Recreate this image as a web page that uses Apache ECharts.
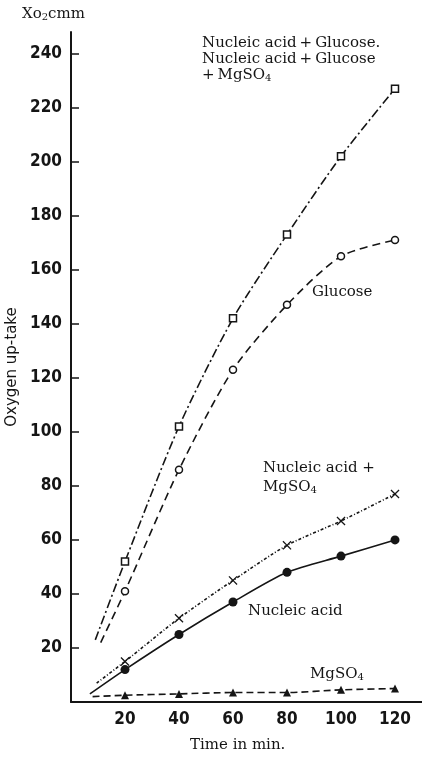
<!DOCTYPE html>
<html>
<head>
<meta charset="utf-8">
<script src="https://cdn.jsdelivr.net/npm/echarts@6/dist/echarts.min.js"></script>
<style>
  html, body { margin: 0; padding: 0; background: #fff; }
  #chart { width: 422px; height: 760px; }
</style>
</head>
<body>
<div id="chart"></div>
<script>
// time points (min)
var timeMin = [20, 40, 60, 80, 100, 120];
var xTicks = [20, 40, 60, 80, 100, 120];
var yTicks = [20, 40, 60, 80, 100, 120, 140, 160, 180, 200, 220, 240];

// oxygen up-take values
var nucGlucose = [52, 102, 142, 173, 202, 227];   // Nucleic acid + Glucose (+MgSO4)
var glucose = [41, 86, 123, 147, 165, 171];
var nucMgso4 = [15, 31, 45, 58, 67, 77];
var nucleic = [12, 25, 37, 48, 54, 60];
var mgso4 = [2.5, 3, 3.5, 3.5, 4.5, 5];

// where each hand-drawn curve begins (no marker)
var startNucGlucose = [9, 23];
var startGlucose = [11, 22];
var startNucMgso4 = [9.5, 7];
var startNucleic = [7, 3];
var startMgso4 = [8, 2];

var INK = "#151515";
var crossPath = "path://M0,1L1,0L5,4L9,0L10,1L6,5L10,9L9,10L5,6L1,10L0,9L4,5Z";

function buildData(start, values) {
  var out = [{ value: start, symbol: "none" }];
  values.forEach(function (v, i) {
    out.push([timeMin[i], v]);
  });
  return out;
}

function lineSeries(name, start, values, dash, symbol, size, filled) {
  return {
    name: name,
    type: "line",
    smooth: 0.25,
    data: buildData(start, values),
    symbol: symbol,
    symbolSize: size,
    showAllSymbol: true,
    lineStyle: { color: INK, width: 1.6, type: dash },
    itemStyle: {
      color: filled ? INK : "#fff",
      borderColor: INK,
      borderWidth: filled ? 0 : 1.5,
    },
    emphasis: { disabled: true },
    z: 3,
  };
}

var chart = echarts.init(document.getElementById("chart"));

var serif = "'DejaVu Serif', 'Liberation Serif', serif";
var narrow = "'DejaVu Sans Condensed', 'Liberation Sans Narrow', 'Liberation Sans', sans-serif";
var sub = { fontFamily: serif, fontSize: 10, fill: INK, padding: [6, 0, 0, 0] };

var option = {
  backgroundColor: "#fff",
  animation: false,
  grid: { left: 71, right: 0, top: 32, bottom: 58, outerBoundsMode: "none" },
  xAxis: {
    type: "value",
    min: 0,
    max: 130,
    axisLine: { show: true, lineStyle: { color: INK, width: 2 } },
    axisTick: { show: false },
    splitLine: { show: false },
    axisLabel: {
      customValues: xTicks,
      color: INK,
      fontFamily: narrow,
      fontWeight: "bold",
      fontSize: 17,
      margin: 9,
    },
  },
  yAxis: {
    type: "value",
    min: 0,
    max: 248,
    name: "Oxygen up-take",
    nameLocation: "middle",
    nameRotate: 90,
    nameGap: 45,
    nameTextStyle: { color: INK, fontFamily: "'DejaVu Sans', sans-serif", fontSize: 15 },
    axisLine: { show: true, lineStyle: { color: INK, width: 2 } },
    axisTick: {
      show: true,
      inside: true,
      length: 8,
      customValues: yTicks,
      lineStyle: { color: INK, width: 1.5 },
    },
    splitLine: { show: false },
    axisLabel: {
      customValues: yTicks,
      color: INK,
      fontFamily: narrow,
      fontWeight: "bold",
      fontSize: 17,
      margin: 9,
    },
  },
  graphic: [
    {
      type: "text",
      left: 22,
      top: 7,
      style: {
        text: "{a|Xo}{s|2}{a|cmm}",
        rich: {
          a: { fontFamily: serif, fontSize: 15, fill: INK },
          s: sub,
        },
      },
    },
    {
      type: "text",
      left: 202,
      top: 35,
      style: {
        text: "Nucleic acid\u2009+\u2009Glucose.\nNucleic acid\u2009+\u2009Glucose\n+\u2009MgSO{s|4}",
        fontFamily: serif,
        fontSize: 15,
        lineHeight: 16,
        fill: INK,
        rich: { s: sub },
      },
    },
    {
      type: "text",
      left: 312,
      top: 285,
      style: { text: "Glucose", fontFamily: serif, fontSize: 15, fill: INK },
    },
    {
      type: "text",
      left: 263,
      top: 459,
      style: {
        text: "Nucleic acid +\nMgSO{s|4}",
        fontFamily: serif,
        fontSize: 15,
        lineHeight: 19,
        fill: INK,
        rich: { s: sub },
      },
    },
    {
      type: "text",
      left: 248,
      top: 604,
      style: { text: "Nucleic acid", fontFamily: serif, fontSize: 15, fill: INK },
    },
    {
      type: "text",
      left: 310,
      top: 667,
      style: {
        text: "MgSO{s|4}",
        fontFamily: serif,
        fontSize: 15,
        fill: INK,
        rich: { s: sub },
      },
    },
    {
      type: "text",
      left: 190,
      top: 738,
      style: { text: "Time in min.", fontFamily: serif, fontSize: 15, fill: INK },
    },
  ],
  series: [
    lineSeries("Nucleic acid + Glucose", startNucGlucose, nucGlucose, [9, 3, 2, 3], "rect", 7, false),
    lineSeries("Glucose", startGlucose, glucose, [8, 5], "circle", 7, false),
    lineSeries("Nucleic acid + MgSO4", startNucMgso4, nucMgso4, [3, 2, 1, 2], crossPath, 9, true),
    lineSeries("Nucleic acid", startNucleic, nucleic, "solid", "circle", 9, true),
    lineSeries("MgSO4", startMgso4, mgso4, [7, 4], "triangle", 8, true),
  ],
};

chart.setOption(option);
</script>
</body>
</html>
